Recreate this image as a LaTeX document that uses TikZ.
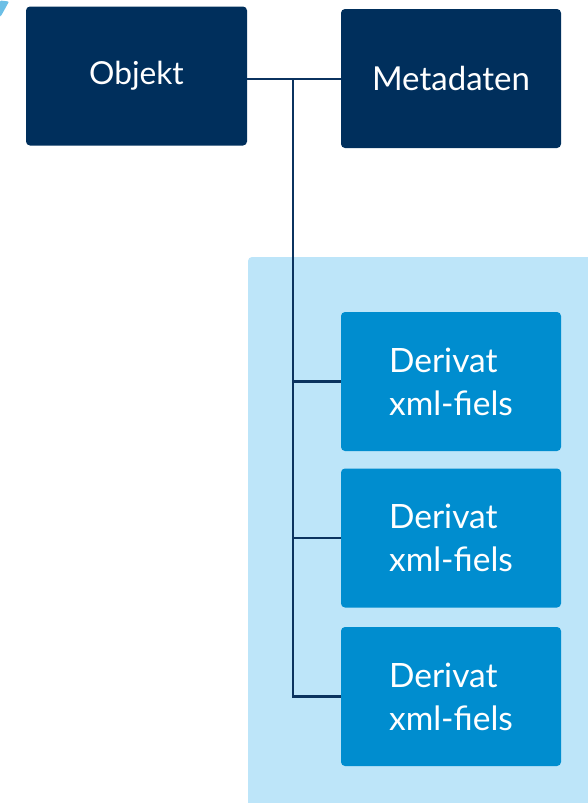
\documentclass[tikz,border=0pt]{standalone}
\usepackage{fontspec}
\setmainfont{Lato}
\definecolor{navy}{HTML}{002F5C}
\definecolor{derblue}{HTML}{008DCF}
\definecolor{paleblue}{HTML}{BDE5F9}
\definecolor{triblue}{HTML}{6CBFE6}
\definecolor{linenavy}{HTML}{0B335F}
\begin{document}
\begin{tikzpicture}[x=1pt,y=1pt,
  darkbox/.style={fill=navy, rounded corners=4pt, text=white, minimum width=221pt, minimum height=139pt, inner sep=0pt, font=\fontsize{31.7}{36}\selectfont},
  derbox/.style={fill=derblue, rounded corners=4pt, text=white, minimum width=220pt, minimum height=139pt, inner sep=0pt, align=left, font=\fontsize{33.5}{43}\selectfont},
  conn/.style={draw=linenavy, line width=2.2pt}]
\useasboundingbox (0,0) rectangle (587,-803);
\fill[triblue, rounded corners=1pt] (0,-0.5) -- (9,-1.5) -- (1,-16) -- (0,-16) -- cycle;
\fill[paleblue, rounded corners=4pt] (248,-257) rectangle (600,-820);
\node[darkbox] (obj) at (136.5,-76) {Objekt};
\node[darkbox, minimum width=220pt, font=\fontsize{33}{36}\selectfont] (meta) at (451,-78.5) {Metadaten};
\node[derbox] (d1) at (451,-381.5) {Derivat\\xml-fiels};
\node[derbox] (d2) at (451,-538) {Derivat\\xml-fiels};
\node[derbox] (d3) at (451,-696.5) {Derivat\\xml-fiels};
\coordinate (j) at (293,-79);
\draw[conn] (obj.east |- j) -- (meta.west |- j);
\draw[conn, line join=miter] (j) -- (j |- d3.west) -- (d3.west);
\draw[conn] (j |- d1.west) -- (d1.west);
\draw[conn] (j |- d2.west) -- (d2.west);
\end{tikzpicture}
\end{document}
